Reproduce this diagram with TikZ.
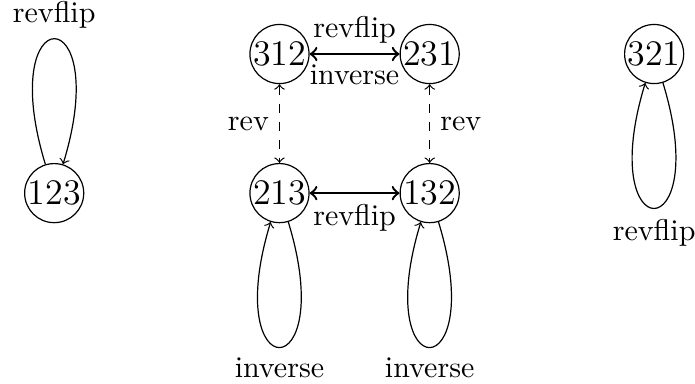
\documentclass[tikz,border=0pt]{standalone}
\begin{document}
\begin{tikzpicture}[
  perm/.style={draw, circle, inner sep=0pt, minimum size=19.7pt, font=\large},
  move/.style={<->, thick},
  revmove/.style={<->, dashed},
  selfloop/.style={->, distance=2.05cm}
]
\useasboundingbox (-3.275,0.633) rectangle (4.869,-3.855);
\node[perm] (p312) at (0,0) {312};
\node[perm] (p231) at (1.76,0) {231};
\node[perm] (p213) at (0,-1.63) {213};
\node[perm] (p132) at (1.76,-1.63) {132};
\node[perm] (p123) at (-2.64,-1.63) {123};
\node[perm] (p321) at (4.39,0) {321};
\draw[move] (p312) -- node[above] {revflip} node[below] {inverse} (p231);
\draw[move] (p213) -- node[below] {revflip} (p132);
\draw[revmove] (p312) -- node[left] {rev} (p213);
\draw[revmove] (p231) -- node[right] {rev} (p132);
\draw[selfloop] (p123) to[out=107,in=73] node[above] {revflip} (p123);
\draw[selfloop] (p213) to[out=-73,in=-107] node[below] {inverse} (p213);
\draw[selfloop] (p132) to[out=-73,in=-107] node[below] {inverse} (p132);
\draw[selfloop] (p321) to[out=-73,in=-107] node[below] {revflip} (p321);
\end{tikzpicture}
\end{document}
